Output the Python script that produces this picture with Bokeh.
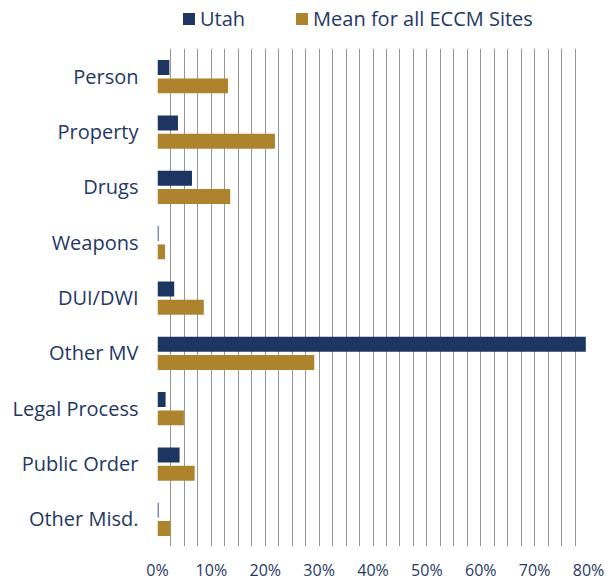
from bokeh.plotting import figure
from bokeh.layouts import column
from bokeh.models import (ColumnDataSource, FactorRange, FixedTicker, PrintfTickFormatter,
                          Legend, LegendItem, Range1d)
from bokeh.transform import dodge
from bokeh.embed import file_html
from bokeh.resources import INLINE

categories = ["Person", "Property", "Drugs", "Weapons", "DUI/DWI", "Other MV",
              "Legal Process", "Public Order", "Other Misd."]
utah = [2.2, 3.8, 6.4, 0.2, 3.1, 79.5, 1.5, 4.1, 0.2]
mean_all = [13.1, 21.8, 13.5, 1.4, 8.6, 29.1, 4.9, 6.9, 2.4]
series_names = ["Utah", "Mean for all ECCM Sites"]
x_ticks = [0, 10, 20, 30, 40, 50, 60, 70, 80]

NAVY = "#1d3661"
GOLD = "#ad842d"
TEXT = "#1f3864"
FONT = "Open Sans"

src = ColumnDataSource(dict(cat=categories, utah=utah, mean=mean_all))

# ---- legend strip on top (its frame is aligned with the main chart's frame) ----
lg = figure(width=608, height=48, output_backend="svg", toolbar_location=None,
            x_range=Range1d(0, 1), y_range=Range1d(0, 1),
            x_axis_type=None, y_axis_type=None,
            min_border_left=157, min_border_right=20, min_border_top=0, min_border_bottom=0)
lg.outline_line_color = None
lg.grid.grid_line_color = None
# zero-size proxy glyphs, used only to give the legend its swatches
d1 = lg.rect(x=[0], y=[0], width=0, height=0, fill_color=NAVY, line_color=None)
d2 = lg.rect(x=[0], y=[0], width=0, height=0, fill_color=GOLD, line_color=None)
legend = Legend(items=[LegendItem(label=series_names[0], renderers=[d1]),
                       LegendItem(label=series_names[1], renderers=[d2])],
                orientation="horizontal", location=(24, 16),
                border_line_color=None, background_fill_alpha=0,
                glyph_width=15, glyph_height=15, label_standoff=4, spacing=49,
                padding=0, margin=0,
                label_text_font=FONT, label_text_font_size="20px",
                label_text_color=TEXT)
lg.add_layout(legend, "center")

# ---- main chart ----
p = figure(width=608, height=535, output_backend="svg", toolbar_location=None,
           y_range=FactorRange(factors=categories[::-1], range_padding=0),
           x_range=Range1d(0, 80),
           min_border_left=157, min_border_right=20, min_border_top=0, min_border_bottom=33)

p.hbar(y=dodge("cat", 0.155, range=p.y_range), right="utah", left=0, height=0.27,
       source=src, fill_color=NAVY, line_color=None)
p.hbar(y=dodge("cat", -0.175, range=p.y_range), right="mean", left=0, height=0.27,
       source=src, fill_color=GOLD, line_color=None)

p.outline_line_color = None
p.ygrid.grid_line_color = None
p.xgrid.ticker = FixedTicker(ticks=[i * 2.5 for i in range(33)])
p.xgrid.grid_line_color = "#969696"
p.xgrid.grid_line_width = 1
p.xgrid.level = "underlay"

for ax in (p.xaxis, p.yaxis):
    ax.axis_line_color = None
    ax.major_tick_line_color = None
    ax.minor_tick_line_color = None
    ax.major_tick_out = 0
    ax.major_tick_in = 0
    ax.minor_tick_out = 0
    ax.minor_tick_in = 0
    ax.major_label_text_font = FONT
    ax.major_label_text_color = TEXT

p.xaxis.ticker = FixedTicker(ticks=x_ticks)
p.xaxis.formatter = PrintfTickFormatter(format="%d%%")
p.xaxis.major_label_text_font_size = "16px"
p.xaxis.major_label_standoff = 12

p.yaxis.major_label_text_font_size = "20px"
p.yaxis.major_label_standoff = 19

layout = column(lg, p, spacing=0)
open("out.html", "w").write(file_html(layout, INLINE))
